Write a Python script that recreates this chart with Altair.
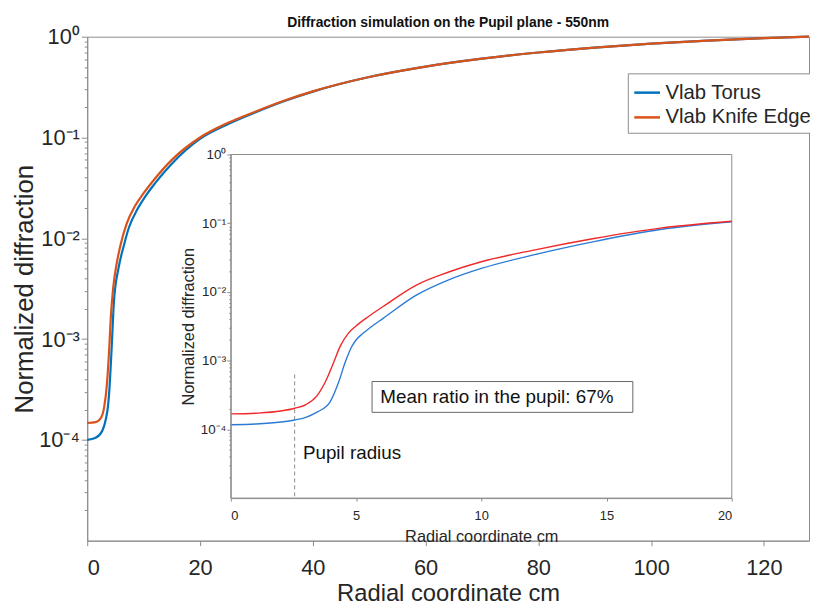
import altair as alt
import pandas as pd

SERIES = ["Vlab Torus", "Vlab Knife Edge"]
MAIN_COLORS = ["#0072BD", "#D95319"]
INSET_COLORS = ["#2B7BD6", "#F0282A"]

# ---- main plot data (radial coordinate cm, normalized diffraction)
main_torus_x = [0, 1.5, 2.7, 3.3, 3.7, 4.0, 4.35, 4.75, 5.6, 6.5, 7.4, 8.8, 10.3, 12, 15, 20,
                25, 30, 35, 40, 50, 60, 70, 80, 90, 100, 110, 120, 128]
main_torus_y = [1.0e-4, 1.05e-4, 1.24e-4, 1.6e-4, 2.2e-4, 3.6e-4, 8.5e-4, 2.4e-3, 5.2e-3, 8.5e-3,
                1.28e-2, 1.9e-2, 2.6e-2, 3.5e-2, 5.5e-2, 0.097,
                0.136, 0.179, 0.230, 0.285, 0.398, 0.505, 0.605, 0.697, 0.780, 0.853, 0.916, 0.968, 1.0]
main_knife_x = [0, 1.5, 2.5, 3.0, 3.5, 3.9, 4.2, 4.6, 5.2, 6.0, 7.0, 8.5, 10, 12, 15, 20,
                25, 30, 35, 40, 50, 60, 70, 80, 90, 100, 110, 120, 128]
main_knife_y = [1.47e-4, 1.5e-4, 1.68e-4, 2.1e-4, 3.6e-4, 8e-4, 1.7e-3, 3.2e-3, 5.5e-3, 9e-3,
                1.4e-2, 2.1e-2, 2.8e-2, 3.9e-2, 6.0e-2, 0.1,
                0.140, 0.1824, 0.2328, 0.287, 0.398, 0.505, 0.605, 0.697, 0.780, 0.853, 0.916, 0.968, 1.0]

# ---- inset data
inset_torus_x = [0, 1, 2, 2.55, 3.0, 3.44, 3.96, 4.3, 4.56, 4.82, 5.0, 5.28, 5.7, 6.07, 7.39, 8.7,
                 10.0, 12, 14.5, 17.15, 20]
inset_torus_y = [1.17e-4, 1.2e-4, 1.28e-4, 1.37e-4, 1.5e-4, 1.78e-4, 2.5e-4, 4.8e-4, 9.3e-4, 1.58e-3,
                 2.0e-3, 2.5e-3, 3.3e-3, 4.1e-3, 8.9e-3, 1.5e-2, 2.2e-2, 3.4e-2, 5.4e-2, 8.1e-2, 0.105]
inset_knife_x = [0, 1, 2, 2.55, 3.0, 3.44, 3.83, 4.1, 4.36, 4.69, 5.0, 5.5, 6.07, 7.39, 8.7, 10.0,
                 12, 14.5, 17.15, 20]
inset_knife_y = [1.68e-4, 1.72e-4, 1.85e-4, 2.03e-4, 2.3e-4, 3.08e-4, 5.4e-4, 9.3e-4, 1.6e-3, 2.5e-3,
                 3.2e-3, 4.4e-3, 6.1e-3, 1.25e-2, 1.95e-2, 2.75e-2, 4.0e-2, 6.0e-2, 8.5e-2, 0.107]

pupil_radius = [2.55]
pupil_rule_top = [6.3e-4]
pupil_label = ["Pupil radius"]
pupil_label_pos = ([2.88], [4.5e-5])
ratio_label = ["Mean ratio in the pupil: 67%"]
ratio_label_pos = ([5.97], [2.95e-4])
ratio_box = ([5.64], [16.05], [1.77e-4], [4.97e-4])

MAIN_X_TICKS = [0, 20, 40, 60, 80, 100, 120]
INSET_X_TICKS = [0, 5, 10, 15, 20]
MAJOR_Y = [1e-4, 1e-3, 1e-2, 1e-1, 1]
MINOR_Y = [m * 10.0 ** k for k in range(-5, 0) for m in range(2, 10)]
Y_TICKS = MAJOR_Y + MINOR_Y

FONT = "Liberation Sans"
GREY = "#8c8c8c"
TXT = "#262626"

MAJ = "abs(log(datum.value)/LN10 - round(log(datum.value)/LN10)) < 0.01"
EXP = "round(log(datum.value)/LN10)"
LABEL_EXPR = (f"({MAJ}) ? ('10' + ({EXP} == 0 ? '\u2070' : {EXP} == -1 ? '\u207b\u00b9' : "
              f"{EXP} == -2 ? '\u207b\u00b2' : {EXP} == -3 ? '\u207b\u00b3' : '\u207b\u2074')) : ''")


def tsize(major, minor):
    return {"condition": {"test": MAJ, "value": major}, "value": minor}


main_df = pd.DataFrame({
    "x": main_torus_x + main_knife_x,
    "y": main_torus_y + main_knife_y,
    "series": [SERIES[0]] * len(main_torus_x) + [SERIES[1]] * len(main_knife_x),
})

main = alt.Chart(main_df).mark_line(strokeWidth=2.2, interpolate="monotone").encode(
    x=alt.X("x:Q", scale=alt.Scale(domain=[0, 128], nice=False, zero=False),
            axis=alt.Axis(values=MAIN_X_TICKS, title="Radial coordinate cm", labelFontSize=22,
                          titleFontSize=24, tickSize=5, labelPadding=12, titlePadding=3, grid=False)),
    y=alt.Y("y:Q", scale=alt.Scale(type="log", domain=[1e-5, 1], nice=False),
            axis=alt.Axis(values=Y_TICKS, labelExpr=LABEL_EXPR, tickSize=tsize(6, 3), labelFontSize=22,
                          title="Normalized diffraction", titleFontSize=26, labelPadding=2,
                          titleX=-63, titleY=254.5, titleBaseline="middle",
                          grid=False, labelOverlap=False)),
    color=alt.Color("series:N", sort=SERIES, scale=alt.Scale(domain=SERIES, range=MAIN_COLORS),
                    legend=alt.Legend(title=None, orient="none", legendX=546, legendY=37,
                                      padding=5, strokeColor=GREY, fillColor="white",
                                      symbolType="stroke", symbolSize=676, symbolStrokeWidth=2.5,
                                      labelFontSize=20.5, labelFont=FONT, labelColor=TXT,
                                      labelOffset=4, rowPadding=0)),
)

inset_x = alt.Scale(domain=[0, 20], range=[145, 651], nice=False, zero=False)
inset_y = alt.Scale(type="log", domain=[1e-5, 1], range=[466, 119], nice=False)
ix_axis = alt.Axis(orient="bottom", offset=-43, values=INSET_X_TICKS, title="Radial coordinate cm",
                   labelFontSize=13, titleFontSize=16.5, tickSize=3, labelPadding=9, titlePadding=6,
                   zindex=1, grid=False)
iy_axis = alt.Axis(orient="left", offset=-145, values=Y_TICKS, labelExpr=LABEL_EXPR, tickSize=tsize(4, 2),
                   labelFontSize=13.5, title="Normalized diffraction", titleFontSize=16.5, labelPadding=1,
                   titlePadding=4, zindex=1, grid=False, labelOverlap=False)


def ix(field):
    return alt.X(field, scale=inset_x, axis=ix_axis)


def iy(field):
    return alt.Y(field, scale=inset_y, axis=iy_axis)


frame_df = pd.DataFrame({"x0": [0], "x1": [20], "y0": [1e-5], "y1": [1]})
frame = alt.Chart(frame_df).mark_rect(fill="white", stroke=GREY, strokeWidth=1).encode(
    x=ix("x0:Q"), x2="x1:Q", y=iy("y0:Q"), y2="y1:Q")

rule_df = pd.DataFrame({"x": pupil_radius, "y0": pupil_rule_top, "y1": [1e-5]})
rule = alt.Chart(rule_df).mark_rule(color=GREY, strokeDash=[4, 3], strokeWidth=1).encode(
    x=ix("x:Q"), y=iy("y0:Q"), y2="y1:Q")

it_df = pd.DataFrame({"x": inset_torus_x, "y": inset_torus_y})
ik_df = pd.DataFrame({"x": inset_knife_x, "y": inset_knife_y})
inset_torus = alt.Chart(it_df).mark_line(color=INSET_COLORS[0], strokeWidth=1.4, interpolate="monotone").encode(
    x=ix("x:Q"), y=iy("y:Q"))
inset_knife = alt.Chart(ik_df).mark_line(color=INSET_COLORS[1], strokeWidth=1.4, interpolate="monotone").encode(
    x=ix("x:Q"), y=iy("y:Q"))

box_df = pd.DataFrame({"x0": ratio_box[0], "x1": ratio_box[1], "y0": ratio_box[2], "y1": ratio_box[3]})
box = alt.Chart(box_df).mark_rect(fill="white", stroke="#666666", strokeWidth=1).encode(
    x=ix("x0:Q"), x2="x1:Q", y=iy("y0:Q"), y2="y1:Q")

rtext_df = pd.DataFrame({"x": ratio_label_pos[0], "y": ratio_label_pos[1], "t": ratio_label})
rtext = alt.Chart(rtext_df).mark_text(align="left", baseline="middle", fontSize=19, font=FONT, color="#111").encode(
    x=ix("x:Q"), y=iy("y:Q"), text="t:N")

ptext_df = pd.DataFrame({"x": pupil_label_pos[0], "y": pupil_label_pos[1], "t": pupil_label})
ptext = alt.Chart(ptext_df).mark_text(align="left", baseline="middle", fontSize=19, font=FONT, color="#111").encode(
    x=ix("x:Q"), y=iy("y:Q"), text="t:N")

inset = alt.layer(frame, rule, inset_torus, inset_knife, box, rtext, ptext)

chart = alt.layer(main, inset).resolve_scale(x="independent", y="independent", color="independent").properties(
    width=729, height=509,
    title=alt.TitleParams("Diffraction simulation on the Pupil plane - 550nm", offset=-4),
    padding={"left": 80, "top": 26, "right": 1, "bottom": 64},
    autosize="none",
).configure_view(stroke=GREY, strokeWidth=1).configure_axis(
    labelFont=FONT, titleFont=FONT, labelColor=TXT, titleColor=TXT, domainColor=GREY,
    tickColor=GREY, titleFontWeight="normal",
).configure_title(font=FONT, fontSize=14, fontWeight="bold", color="#111")

chart.save("out.html", embed_options={"renderer": "svg", "actions": False})
